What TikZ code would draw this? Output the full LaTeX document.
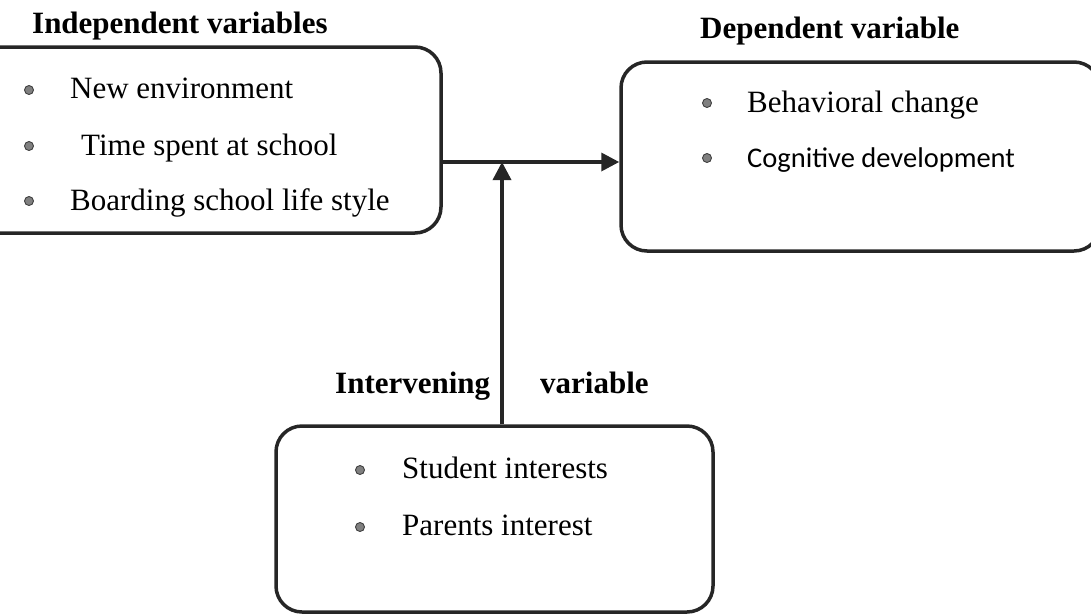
\documentclass[tikz,border=0pt]{standalone}
\usepackage{fontspec}
\setmainfont{Liberation Serif}
\newfontfamily\calibrifont{Carlito}
\usetikzlibrary{arrows.meta}
\begin{document}
\begin{tikzpicture}[x=1pt,y=-1pt,
 box/.style={draw=black!85, line width=3.5pt, rounded corners=26pt, rectangle, inner sep=0pt},
 item/.style={anchor=base west, inner sep=0pt, font=\fontsize{31}{36}\selectfont},
 sitem/.style={anchor=base west, inner sep=0pt, font=\fontsize{28.5}{34}\selectfont\calibrifont},
 head/.style={anchor=base west, inner sep=0pt, font=\fontsize{31}{36}\selectfont\bfseries},
 dot/.style={circle, fill=black!50, draw=black!75, line width=0.9pt, minimum size=9pt, inner sep=0pt},
 conn/.style={draw=black!85, line width=3.5pt, -{Triangle[length=18pt,width=18pt]}}]
\useasboundingbox (0,0) rectangle (1091,614);
% boxes
\node[box, minimum width=471pt, minimum height=186pt] (L) at (205.5,140) {};
\node[box, minimum width=479pt, minimum height=189pt] (R) at (860.5,156.5) {};
\node[box, minimum width=437pt, minimum height=186pt] (B) at (494.5,519) {};
\coordinate (j) at (502,162);
% connectors
\draw[conn] (L.east |- j) -- (R.west |- j);
\draw[conn] (B.north -| j) -- (j);
% headers
\node[head] (hL) at (32,33) {Independent variables};
\node[head] (hR) at (700,38) {Dependent variable};
\node[head] (hB1) at (335,393) {Intervening};
\node[head] (hB2) at (540,393) {variable};
% left items
\node[dot] (d1) at (29,90) {};
\node[item] (t1) at (70,98) {New environment};
\node[dot] (d2) at (29,146) {};
\node[item] (t2) at (81,155) {Time spent at school};
\node[dot] (d3) at (29,201) {};
\node[item] (t3) at (70,210) {Boarding school life style};
% right items
\node[dot] (d4) at (707,103) {};
\node[item] (t4) at (747,112) {Behavioral change};
\node[dot] (d5) at (707,158) {};
\node[sitem] (t5) at (747,167) {Cognitive development};
% bottom items
\node[dot] (d6) at (360,470) {};
\node[item] (t6) at (402,478) {Student interests};
\node[dot] (d7) at (360,527) {};
\node[item] (t7) at (402,535) {Parents interest};
\end{tikzpicture}
\end{document}
